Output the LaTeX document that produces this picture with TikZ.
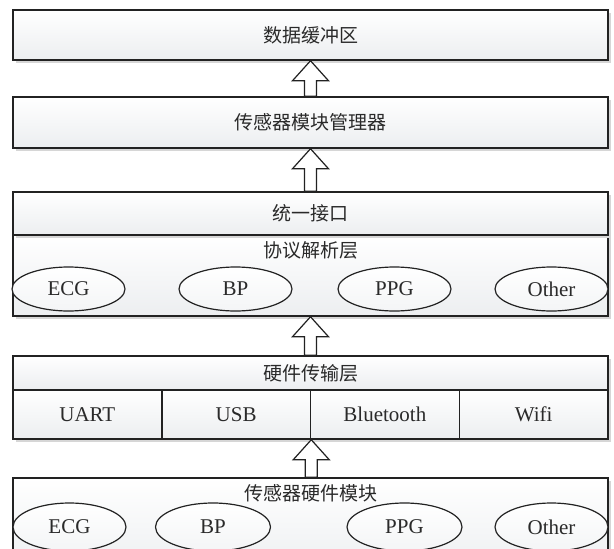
\documentclass[tikz,border=0pt]{standalone}
\usepackage{fontspec}
\setmainfont{Liberation Serif}
\newfontfamily\cjk{Noto Sans CJK SC}
\usetikzlibrary{shadows,shapes.geometric,calc}
\definecolor{edge}{HTML}{222222}
\definecolor{boxbot}{HTML}{ECEEF0}
\definecolor{shade}{HTML}{D6D6D6}
\definecolor{txt}{HTML}{2A2A2A}
\tikzset{
  layer/.style={draw=edge, line width=1.5pt, rectangle, top color=white, bottom color=boxbot,
    drop shadow={shadow xshift=3pt, shadow yshift=-3pt, fill=shade, opacity=1},
    inner sep=0pt, text=txt, font=\cjk\fontsize{19}{21}\selectfont},
  cell/.style={layer, minimum width=148.75pt, minimum height=49pt, font=\fontsize{21}{23}\selectfont},
  zh/.style={font=\cjk\fontsize{19}{21}\selectfont, text=txt, inner sep=0pt},
  oval/.style={ellipse, draw=edge, line width=1.2pt, top color=white, bottom color=boxbot!60,
    minimum width=113pt, minimum height=44pt, inner sep=0pt,
    font=\fontsize{21}{23}\selectfont, text=txt},
  fatarrow/.style={draw=edge, line width=1.2pt, fill=white, line join=miter},
}
\newcommand\fatup[2]{%
  \draw[fatarrow] let \p1=#2, \p2=#1 in
    (\x1-6pt,\y2) -- (\x1-6pt,\y1-20pt) -- (\x1-18pt,\y1-20pt) -- (\x1,\y1)
    -- (\x1+18pt,\y1-20pt) -- (\x1+6pt,\y1-20pt) -- (\x1+6pt,\y2) -- cycle;}
\begin{document}
\begin{tikzpicture}[x=1pt,y=-1pt]
\useasboundingbox (0,0) rectangle (614,549);
\clip (0,0) rectangle (614,549);
\fill[white] (0,0) rectangle (614,549);
% layer 1
\node[layer, minimum width=595pt, minimum height=50pt] (buf) at (310.5,35) {数据缓冲区};
% layer 2
\node[layer, minimum width=595pt, minimum height=51pt] (mgr) at (310.5,122.5) {传感器模块管理器};
% layer 3
\node[layer, minimum width=595pt, minimum height=81pt] (proto) at (310.5,275.5) {};
\node[layer, minimum width=595pt, minimum height=43pt] (iface) at (310.5,213.5) {统一接口};
\node[zh] (protot) at (310.5,250) {协议解析层};
\node[oval] (pecg) at (68.5,289) {ECG};
\node[oval] (pbp) at (235.5,289) {BP};
\node[oval] (pppg) at (394.5,289) {PPG};
\node[oval] (poth) at (551.5,289) {Other};
% layer 4
\node[layer, minimum width=595pt, minimum height=34pt] (hw) at (310.5,373) {硬件传输层};
\node[cell] (uart) at (87.375,414.5) {UART};
\node[cell] (usb) at (236.125,414.5) {USB};
\node[cell] (bt) at (384.875,414.5) {Bluetooth};
\node[cell] (wifi) at (533.625,414.5) {Wifi};
% layer 5
\node[layer, minimum width=595pt, minimum height=100pt] (sens) at (310.5,528) {};
\node[zh] (senst) at (310.5,493) {传感器硬件模块};
\node[oval, minimum height=48pt] (secg) at (69.5,527) {ECG};
\node[oval, minimum width=115pt, minimum height=48pt] (sbp) at (213,527) {BP};
\node[oval, minimum width=115pt, minimum height=48pt] (sppg) at (404.5,527) {PPG};
\node[oval, minimum height=48pt] (soth) at (551.5,527) {Other};
% arrows
\fatup{(mgr.north)}{(buf.south)}
\fatup{(iface.north)}{(mgr.south)}
\fatup{(hw.north)}{(proto.south)}
\fatup{(sens.north)}{(usb.south east)}
\end{tikzpicture}
\end{document}
